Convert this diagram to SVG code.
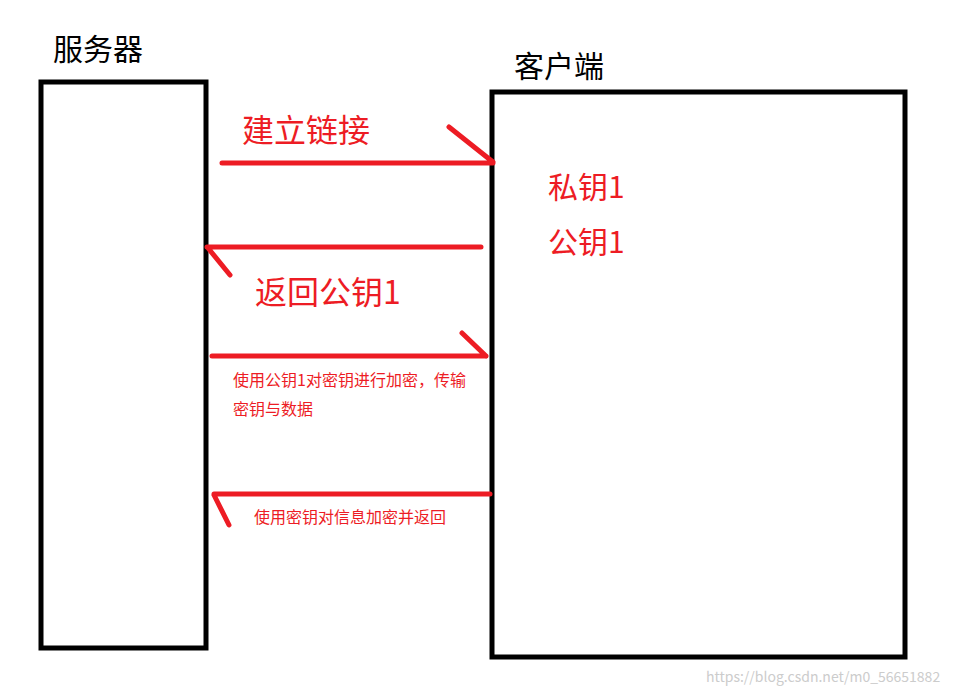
<svg xmlns="http://www.w3.org/2000/svg" width="963" height="694" viewBox="0 0 963 694">
<style>
.box{fill:none;stroke:#000;stroke-width:5}
.ln{stroke:#ed1c24;stroke-width:5;stroke-linecap:round;fill:none}
text{font-family:"Microsoft YaHei","Noto Sans CJK SC",sans-serif}
.r{fill:#ed1c24}
</style>
<rect width="963" height="694" fill="#fff"/>
<g id="server"><rect class="box" x="41" y="82" width="165" height="566"/><text x="53" y="60" font-size="30">服务器</text></g>
<g id="client"><rect class="box" x="492" y="92" width="413" height="565"/><text x="514" y="77" font-size="30">客户端</text>
<text class="r" x="548" y="198" font-size="30">私钥1</text><text class="r" x="548" y="253" font-size="30">公钥1</text></g>
<g id="connectors">
<path class="ln" d="M222 163H493M449 127L493 162"/>
<path class="ln" d="M481 247H207M208 248L230 275"/>
<path class="ln" d="M212 356H486M462 333L486 356"/>
<path class="ln" d="M490 494H214M214 495L229 525"/>
</g>
<g id="labels">
<text class="r" x="242" y="142" font-size="32">建立链接</text>
<text class="r" x="255" y="304" font-size="32">返回公钥1</text>
<text class="r" x="233" y="386" font-size="16">使用公钥1对密钥进行加密，传输</text>
<text class="r" x="233" y="415" font-size="16">密钥与数据</text>
<text class="r" x="254" y="523" font-size="16">使用密钥对信息加密并返回</text>
</g>
<text x="706" y="682" font-size="14" fill="#ccc" font-family="Liberation Sans,sans-serif">https://blog.csdn.net/m0_56651882</text>
</svg>
